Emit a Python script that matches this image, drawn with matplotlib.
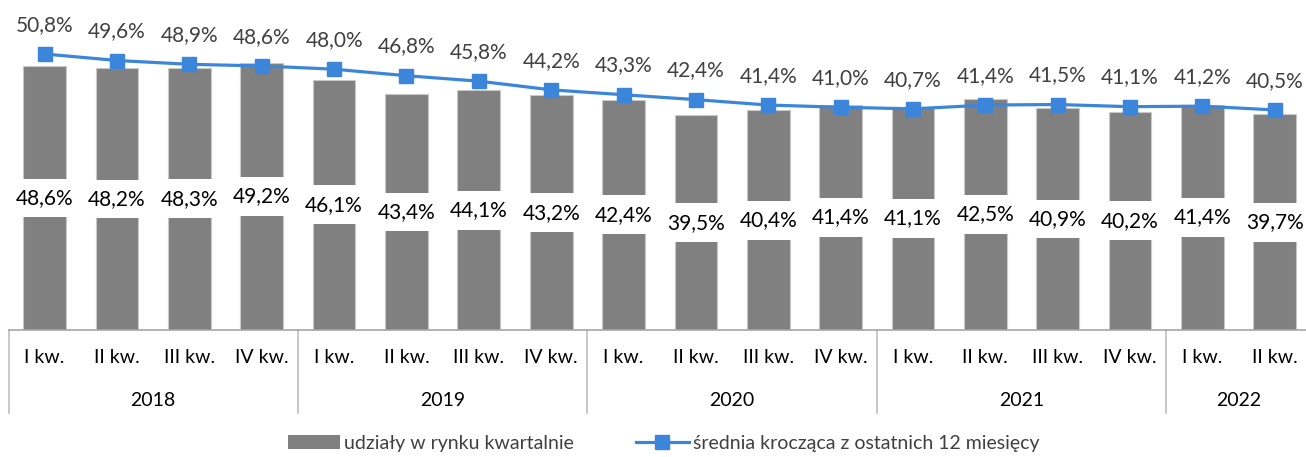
import matplotlib
matplotlib.use('Agg')
import matplotlib.pyplot as plt
from matplotlib.lines import Line2D
from matplotlib.patches import Patch
import numpy as np

plt.rcParams['font.family'] = ['Lato', 'DejaVu Sans']

# Data
quarters = ['I kw.', 'II kw.', 'III kw.', 'IV kw.'] * 4 + ['I kw.', 'II kw.']
years = ['2018', '2019', '2020', '2021', '2022']
quarters_per_year = [4, 4, 4, 4, 2]
quarterly_share = [48.6, 48.2, 48.3, 49.2, 46.1, 43.4, 44.1, 43.2, 42.4,
                   39.5, 40.4, 41.4, 41.1, 42.5, 40.9, 40.2, 41.4, 39.7]
moving_avg = [50.8, 49.6, 48.9, 48.6, 48.0, 46.8, 45.8, 44.2, 43.3,
              42.4, 41.4, 41.0, 40.7, 41.4, 41.5, 41.1, 41.2, 40.5]
bar_name = 'udziały w rynku kwartalnie'
line_name = 'średnia krocząca z ostatnich 12 miesięcy'

bar_color = '#808080'
line_color = '#3b86da'


def pl(v):
    return f'{v:.1f}%'.replace('.', ',')


W, H = 1306, 457
fig = plt.figure(figsize=(W / 100, H / 100), dpi=100)
# plot area in pixels: left 8.5, baseline at y=330, 5.43 px per %
ax = fig.add_axes([8.5 / W, 127 / H, 1302.4 / W, 326 / H])

x = np.arange(len(quarterly_share))
bars = ax.bar(x, quarterly_share, width=0.59, color=bar_color,
              edgecolor='#c8c8c8', linewidth=0.8, zorder=2)
ax.bar_label(bars, labels=[pl(v) for v in quarterly_share], label_type='center',
             fontsize=15, color='black', zorder=3,
             bbox=dict(boxstyle='square,pad=0.45', fc='white', ec='none'))

ax.plot(x, moving_avg, color=line_color, linewidth=2.3, marker='s',
        markersize=10, zorder=4)
for xi, v in zip(x, moving_avg):
    ax.annotate(pl(v), xy=(xi, v), xytext=(0, 21), textcoords='offset points',
                ha='center', va='center', fontsize=15, color='#404040')

ax.set_xlim(-0.5, len(x) - 0.5)
ax.set_ylim(0, 60)
ax.set_yticks([])
for s in ['top', 'right', 'left']:
    ax.spines[s].set_visible(False)
ax.spines['bottom'].set_color('#a6a6a6')
ax.spines['bottom'].set_linewidth(1.2)

ax.set_xticks(x)
ax.set_xticklabels(quarters, fontsize=14)
ax.tick_params(axis='x', length=0, pad=14)

# year groups and separators
start = 0
sep_bottom = -83 / 326
for yr, n in zip(years, quarters_per_year):
    ax.plot([start - 0.5, start - 0.5], [0, sep_bottom], transform=ax.get_xaxis_transform(),
            color='#bfbfbf', linewidth=1.2, clip_on=False)
    ax.text(start + (n - 1) / 2, -70 / 326, yr, transform=ax.get_xaxis_transform(),
            ha='center', va='center', fontsize=14)
    start += n
ax.plot([start - 0.5, start - 0.5], [0, sep_bottom], transform=ax.get_xaxis_transform(),
        color='#bfbfbf', linewidth=1.2, clip_on=False)

handles = [Patch(facecolor=bar_color, edgecolor='none'),
           Line2D([], [], color=line_color, linewidth=2.3, marker='s', markersize=10)]
fig.legend(handles, [bar_name, line_name], loc='center', bbox_to_anchor=(0.508, 14 / H),
           ncol=2, frameon=False, fontsize=14, handlelength=2.7, handletextpad=0.2,
           columnspacing=3.2, labelcolor='#404040')

fig.savefig('out.png', dpi=100)
